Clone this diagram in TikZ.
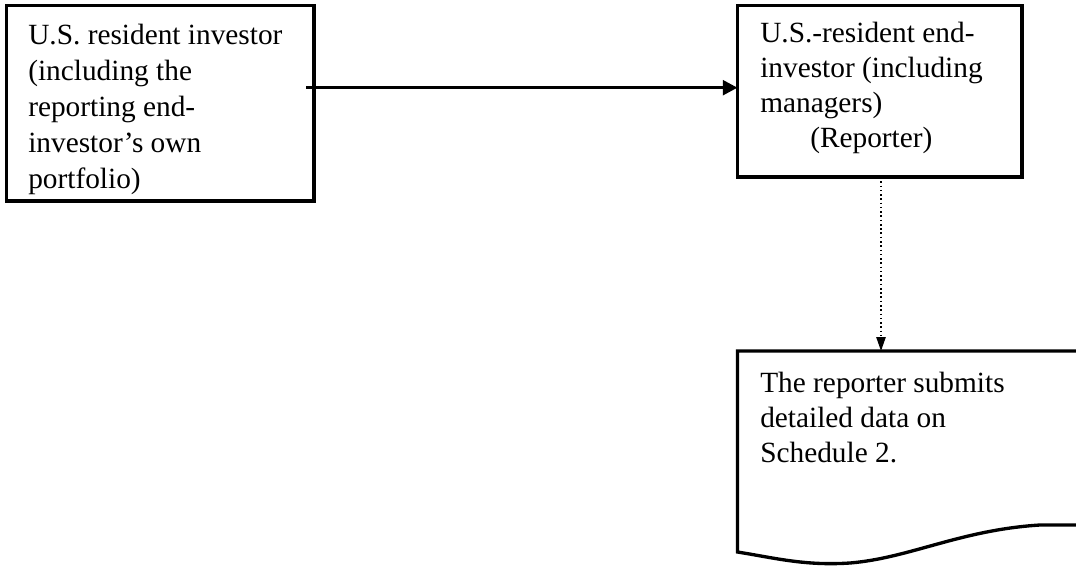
\documentclass[tikz,border=0pt]{standalone}
\usepackage{fontspec}
\setmainfont{Liberation Serif}
\usetikzlibrary{arrows.meta}
\begin{document}
\begin{tikzpicture}[x=0.75pt,y=-0.75pt,
  boxline/.style={draw=black,line width=2.5pt},
  txt/.style={anchor=north west,inner sep=0pt,align=left},
  bigfont/.style={font=\fontsize{22pt}{27pt}\selectfont},
  tightfont/.style={font=\fontsize{22pt}{26.25pt}\selectfont},
  solidarrow/.style={line width=2.4pt,-{Triangle[length=11pt,width=11pt]}},
  dotarrow/.style={line width=1.2pt,dotted,-{Triangle[length=10.5pt,width=7pt]}}]
\useasboundingbox (0,0) rectangle (1076,567);
\clip (0,0) rectangle (1076,567);
% left box
\draw[boxline] (6.5,5.5) rectangle (314,201);
\coordinate (lstart) at (306,87.7);
\node[txt,bigfont] (ltext) at (28,23.5) {U.S. resident investor\\(including the\\reporting end-\\investor’s own\\portfolio)};
% right box
\draw[boxline] (737.5,5.5) rectangle (1022,177);
\coordinate (rleft) at (737.5,87.7);
\coordinate (rbottom) at (881,177);
\node[txt,tightfont] (rtext) at (760,21.5) {U.S.-resident end-\\investor (including\\managers)\\\hspace*{37.5pt}(Reporter)};
% document shape
\draw[boxline] (1090,351) -- (737.5,351) -- (737.5,552)
  .. controls (775,558) and (805,566) .. (850,563)
  .. controls (910,558) and (960,530) .. (1040,525)
  -- (1090,525);
\coordinate (doctop) at (881,351);
\node[txt,tightfont] (dtext) at (760,372) {The reporter submits\\detailed data on\\Schedule 2.};
% connectors
\draw[solidarrow] (lstart) -- (rleft);
\draw[dotarrow] (rbottom) -- (doctop);
\end{tikzpicture}
\end{document}
